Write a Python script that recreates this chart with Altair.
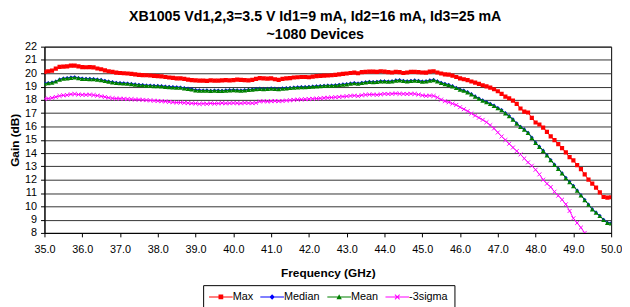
import altair as alt
import pandas as pd

# ---- data (0.1 GHz steps starting at 35.0 GHz) ----
FREQ_START = 35.0
FREQ_STEP = 0.1

max_gain = [
    20.10, 20.15, 20.20, 20.35, 20.48, 20.50, 20.52, 20.58, 20.58, 20.52,
    20.46, 20.45, 20.46, 20.44, 20.36, 20.30, 20.22, 20.15, 20.10, 20.05,
    20.02, 20.00, 19.98, 19.95, 19.92, 19.88, 19.86, 19.85, 19.83, 19.80,
    19.78, 19.76, 19.72, 19.68, 19.65, 19.62, 19.62, 19.58, 19.52, 19.48,
    19.46, 19.44, 19.45, 19.43, 19.46, 19.45, 19.44, 19.47, 19.48, 19.46,
    19.48, 19.52, 19.50, 19.48, 19.46, 19.50, 19.58, 19.64, 19.62, 19.60,
    19.62, 19.55, 19.50, 19.58, 19.62, 19.63, 19.68, 19.70, 19.72, 19.72,
    19.70, 19.75, 19.78, 19.80, 19.82, 19.83, 19.85, 19.88, 19.92, 19.95,
    19.98, 20.02, 20.05, 20.00, 20.08, 20.10, 20.12, 20.12, 20.10, 20.15,
    20.12, 20.08, 20.06, 20.10, 20.08, 20.02, 20.06, 20.10, 20.10, 20.08,
    20.06, 20.05, 20.12, 20.15, 20.06, 19.98, 19.92, 19.90, 19.82, 19.72,
    19.62, 19.55, 19.48, 19.38, 19.30, 19.20, 19.10, 19.02, 18.92, 18.80,
    18.65, 18.45, 18.25, 18.12, 17.95, 17.70, 17.35, 17.12, 17.05, 16.65,
    16.30, 16.15, 15.92, 15.60, 15.25, 14.98, 14.68, 14.38, 14.05, 13.70,
    13.45, 13.10, 12.80, 12.40, 12.00, 11.70, 11.40, 11.05, 10.70, 10.65,
    10.68,
]

median_gain = [
    19.25, 19.28, 19.32, 19.40, 19.55, 19.62, 19.65, 19.70, 19.72, 19.66,
    19.62, 19.60, 19.60, 19.58, 19.55, 19.52, 19.45, 19.40, 19.35, 19.30,
    19.28, 19.27, 19.25, 19.22, 19.18, 19.15, 19.13, 19.10, 19.10, 19.08,
    19.07, 19.05, 19.02, 19.00, 18.98, 18.96, 18.95, 18.90, 18.86, 18.82,
    18.76, 18.74, 18.72, 18.73, 18.70, 18.72, 18.72, 18.70, 18.73, 18.75,
    18.76, 18.74, 18.72, 18.75, 18.78, 18.80, 18.84, 18.86, 18.84, 18.85,
    18.88, 18.86, 18.84, 18.88, 18.90, 18.92, 18.95, 18.96, 18.98, 18.98,
    19.00, 19.02, 19.04, 19.06, 19.08, 19.10, 19.10, 19.12, 19.15, 19.18,
    19.20, 19.25, 19.28, 19.25, 19.30, 19.34, 19.38, 19.36, 19.38, 19.42,
    19.42, 19.40, 19.42, 19.48, 19.50, 19.45, 19.42, 19.45, 19.48, 19.45,
    19.40, 19.42, 19.48, 19.52, 19.42, 19.30, 19.22, 19.15, 19.05, 18.92,
    18.80, 18.72, 18.60, 18.45, 18.28, 18.12, 17.98, 17.85, 17.72, 17.58,
    17.40, 17.25, 17.02, 16.80, 16.55, 16.25, 16.00, 15.80, 15.55, 15.18,
    14.80, 14.50, 14.20, 13.85, 13.50, 13.15, 12.85, 12.50, 12.15, 11.85,
    11.55, 11.20, 10.85, 10.50, 10.15, 9.80, 9.55, 9.30, 9.00, 8.78,
    8.75,
]

mean_gain = [
    19.22, 19.25, 19.30, 19.38, 19.52, 19.60, 19.62, 19.66, 19.68, 19.63,
    19.58, 19.57, 19.56, 19.55, 19.52, 19.48, 19.42, 19.37, 19.32, 19.27,
    19.25, 19.23, 19.21, 19.18, 19.15, 19.12, 19.10, 19.07, 19.06, 19.04,
    19.03, 19.01, 18.98, 18.96, 18.94, 18.92, 18.91, 18.86, 18.82, 18.78,
    18.72, 18.70, 18.69, 18.70, 18.67, 18.69, 18.68, 18.67, 18.70, 18.72,
    18.73, 18.71, 18.69, 18.72, 18.75, 18.77, 18.81, 18.83, 18.81, 18.82,
    18.85, 18.83, 18.81, 18.85, 18.87, 18.89, 18.92, 18.93, 18.95, 18.95,
    18.97, 18.99, 19.01, 19.03, 19.05, 19.07, 19.07, 19.09, 19.12, 19.15,
    19.17, 19.22, 19.25, 19.22, 19.27, 19.31, 19.35, 19.33, 19.35, 19.39,
    19.39, 19.37, 19.39, 19.45, 19.47, 19.42, 19.39, 19.42, 19.45, 19.42,
    19.37, 19.39, 19.45, 19.49, 19.39, 19.27, 19.19, 19.12, 19.02, 18.89,
    18.77, 18.69, 18.57, 18.42, 18.25, 18.09, 17.95, 17.82, 17.69, 17.55,
    17.37, 17.22, 16.99, 16.77, 16.52, 16.22, 15.97, 15.77, 15.52, 15.15,
    14.77, 14.47, 14.17, 13.82, 13.47, 13.12, 12.82, 12.47, 12.12, 11.82,
    11.52, 11.17, 10.82, 10.47, 10.12, 9.77, 9.52, 9.27, 8.97, 8.75,
    8.72,
]

sigma_gain = [
    18.08, 18.10, 18.15, 18.22, 18.30, 18.34, 18.36, 18.42, 18.44, 18.40,
    18.38, 18.38, 18.39, 18.36, 18.32, 18.27, 18.22, 18.16, 18.12, 18.10,
    18.09, 18.08, 18.06, 18.05, 18.03, 18.02, 18.00, 17.98, 17.96, 17.94,
    17.92, 17.90, 17.88, 17.85, 17.82, 17.80, 17.80, 17.78, 17.76, 17.74,
    17.73, 17.70, 17.72, 17.70, 17.74, 17.72, 17.73, 17.76, 17.74, 17.75,
    17.76, 17.75, 17.74, 17.77, 17.76, 17.75, 17.78, 17.88, 17.90, 17.88,
    17.90, 17.92, 17.90, 17.92, 17.95, 17.97, 18.00, 18.02, 18.03, 18.05,
    18.06, 18.08, 18.10, 18.12, 18.15, 18.16, 18.18, 18.20, 18.22, 18.25,
    18.27, 18.30, 18.32, 18.28, 18.35, 18.38, 18.40, 18.40, 18.38, 18.42,
    18.45, 18.44, 18.46, 18.48, 18.46, 18.45, 18.44, 18.46, 18.45, 18.40,
    18.34, 18.30, 18.32, 18.30, 18.18, 18.02, 17.90, 17.82, 17.72, 17.62,
    17.45, 17.30, 17.15, 16.98, 16.82, 16.66, 16.50, 16.32, 16.10, 15.85,
    15.55, 15.25, 14.98, 14.70, 14.42, 14.15, 13.90, 13.60, 13.30, 13.05,
    12.75, 12.40, 12.00, 11.70, 11.45, 11.10, 10.80, 10.50, 10.15, 9.65,
    9.10, 8.75, 8.40, 8.00, 7.60,
]

series_names = ["Max", "Median", "Mean", "-3sigma"]
series_colors = ["#FF0000", "#0000FF", "#008000", "#FF00FF"]
series_values = [max_gain, median_gain, mean_gain, sigma_gain]

x_ticks = [35.0, 36.0, 37.0, 38.0, 39.0, 40.0, 41.0, 42.0, 43.0, 44.0,
           45.0, 46.0, 47.0, 48.0, 49.0, 50.0]
y_ticks = [8, 9, 10, 11, 12, 13, 14, 15, 16, 17, 18, 19, 20, 21, 22]

title_lines = ["XB1005 Vd1,2,3=3.5 V Id1=9 mA, Id2=16 mA, Id3=25 mA",
               "~1080 Devices"]

rows = []
for name, vals in zip(series_names, series_values):
    for i, v in enumerate(vals):
        rows.append({"freq": round(FREQ_START + FREQ_STEP * i, 1),
                     "gain": v, "series": name})
df = pd.DataFrame(rows)

FONT = "Liberation Sans"

x_enc = alt.X(
    "freq:Q",
    scale=alt.Scale(domain=[35, 50], nice=False, zero=False),
    axis=alt.Axis(values=x_ticks, format=".1f", title="Frequency (GHz)",
                  grid=False, tickSize=4, labelPadding=7, titlePadding=13,
                  labelFlush=False, labelOverlap=False),
)
y_enc = alt.Y(
    "gain:Q",
    scale=alt.Scale(domain=[8, 22], nice=False, zero=False),
    axis=alt.Axis(values=y_ticks, format="d", title="Gain (dB)", grid=True,
                  tickSize=4, labelPadding=4, titlePadding=3,
                  labelFlush=False, labelOverlap=False),
)

# marker styles per series
marker_specs = {
    "Max": dict(shape="square", size=18, filled=True),
    "Median": dict(shape="diamond", size=14, filled=True),
    "Mean": dict(shape="triangle-up", size=24, filled=True),
    "-3sigma": dict(shape="M-1,-1L1,1M-1,1L1,-1", size=16, filled=False,
                    strokeWidth=1),
}

layers = []
for name, color in zip(series_names, series_colors):
    sub = df[df["series"] == name]
    line = alt.Chart(sub).mark_line(color=color, strokeWidth=1, clip=True).encode(
        x=x_enc, y=y_enc)
    spec = marker_specs[name]
    pts = alt.Chart(sub).mark_point(color=color, opacity=1, clip=True, **spec).encode(
        x=x_enc, y=y_enc)
    layers += [line, pts]

# legend symbols: a short line with the marker in its middle
LINE = "M-1,-0.085H3V0.085H-1Z"
legend_paths = [
    LINE + "M0.6,-0.4H1.4V0.4H0.6Z",
    LINE + "M1,-0.45L1.45,0L1,0.45L0.55,0Z",
    LINE + "M1,-0.45L1.45,0.4H0.55Z",
    LINE + "M0.54,-0.34L0.66,-0.46L1.46,0.34L1.34,0.46Z"
           "M0.54,0.34L1.34,-0.46L1.46,-0.34L0.66,0.46Z",
]

legend_props = dict(
    title=None, orient="none", legendX=161, legendY=242,
    direction="horizontal", columns=4,
    symbolSize=144, symbolStrokeWidth=0, symbolOpacity=1,
    labelFont=FONT, labelFontSize=11, labelColor="black",
    labelOffset=12, columnPadding=7, padding=6,
    strokeColor="black", fillColor="white",
)

legend_layer = alt.Chart(df).mark_point(filled=True, opacity=0).encode(
    x=x_enc, y=y_enc,
    color=alt.Color("series:N",
                    scale=alt.Scale(domain=series_names, range=series_colors),
                    legend=alt.Legend(**legend_props)),
    shape=alt.Shape("series:N",
                    scale=alt.Scale(domain=series_names, range=legend_paths),
                    legend=alt.Legend(**legend_props)),
)

chart = alt.layer(*layers, legend_layer).properties(
    width=575, height=189,
    padding={"top": -2, "left": 0, "right": 0, "bottom": 0},
    title=alt.Title(title_lines, font=FONT, fontSize=14.4, fontWeight="bold",
                    color="black", lineHeight=19, offset=-2, anchor="middle",
                    frame="bounds"),
).configure_view(
    stroke="black", strokeWidth=1,
).configure_axis(
    labelFont=FONT, labelFontSize=11, labelColor="black",
    titleFont=FONT, titleFontSize=12, titleFontWeight="bold", titleColor="black",
    domainColor="black", tickColor="black", gridColor="#333333", gridOpacity=1,
)

chart.save("out.html", embed_options={"renderer": "svg", "actions": False})
